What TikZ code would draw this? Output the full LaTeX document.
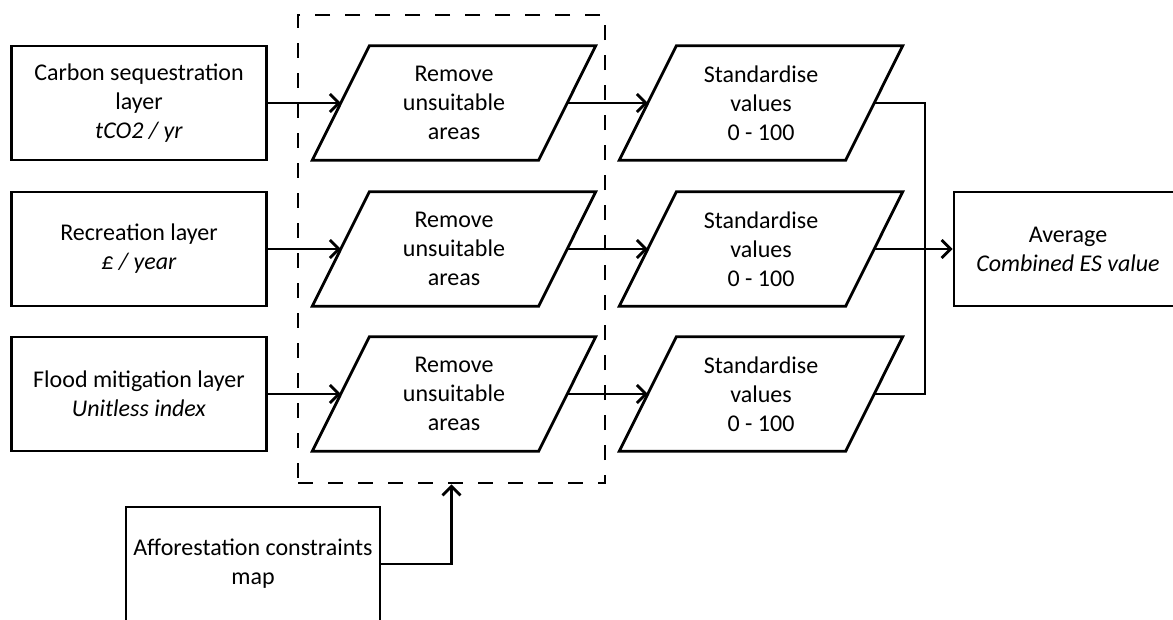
\documentclass[tikz,border=0pt]{standalone}
\usepackage{fontspec}
\setmainfont{Carlito}
\usetikzlibrary{arrows.meta,calc}
\begin{document}
\begin{tikzpicture}[x=1pt,y=-1pt,
  every node/.style={font=\fontsize{24}{29}\selectfont, align=center, inner sep=0pt},
  box/.style={draw, line width=2.8pt, minimum width=255pt, minimum height=114pt},
  para/.style={minimum width=226pt, minimum height=114pt},
  link/.style={line width=2.8pt},
  arr/.style={link, -{Straight Barb[length=9pt,width=18pt]}},
  grp/.style={draw, line width=2.8pt, dash pattern=on 15pt off 15pt, minimum width=307pt, minimum height=468pt}]
\fill[white] (0,0) rectangle (1173,619);
\useasboundingbox (0,0) rectangle (1173,619);
% dashed group
\node[grp] (grp) at (451.5,249) {};
% input boxes
\node[box] (c) at (139,103) {Carbon sequestration\\layer\\\textit{tCO2 / yr}};
\node[box] (rec) at (139,249) {Recreation layer\\\textit{£ / year}};
\node[box] (fl) at (139,394) {Flood mitigation layer\\\textit{Unitless index}};
\node[box, minimum width=254pt] (aff) at (253,564) {Afforestation constraints\\map};
% parallelogram bodies
\node[para] (r1) at (454,103) {Remove\\unsuitable\\areas};
\node[para] (r2) at (454,249) {Remove\\unsuitable\\areas};
\node[para] (r3) at (454,394) {Remove\\unsuitable\\areas};
\node[para] (s1) at (761,103) {Standardise\\values\\0 - 100};
\node[para] (s2) at (761,249) {Standardise\\values\\0 - 100};
\node[para] (s3) at (761,394) {Standardise\\values\\0 - 100};
\foreach \n in {r1,r2,r3,s1,s2,s3}
  \draw[link, line join=miter] ($(\n.north west)+(28.5,0)$) -- ($(\n.north east)+(28.5,0)$)
    -- ($(\n.south east)+(-28.5,0)$) -- ($(\n.south west)+(-28.5,0)$) -- cycle;
% output box
\node[box, minimum width=228pt] (avg) at (1068,249) {Average\\\textit{Combined ES value}};
% connectors
\draw[arr] (c.east) -- (r1.west);
\draw[arr] (rec.east) -- (r2.west);
\draw[arr] (fl.east) -- (r3.west);
\draw[arr] (r1.east) -- (s1.west);
\draw[arr] (r2.east) -- (s2.west);
\draw[arr] (r3.east) -- (s3.west);
\coordinate (j1) at (925,103);
\coordinate (j3) at (925,394);
\draw[link] (s1.east) -- (j1) -- (j3) -- (s3.east);
\draw[arr] (s2.east) -- (avg.west);
\draw[arr] (aff.east) -| (grp.south);
\end{tikzpicture}
\end{document}
